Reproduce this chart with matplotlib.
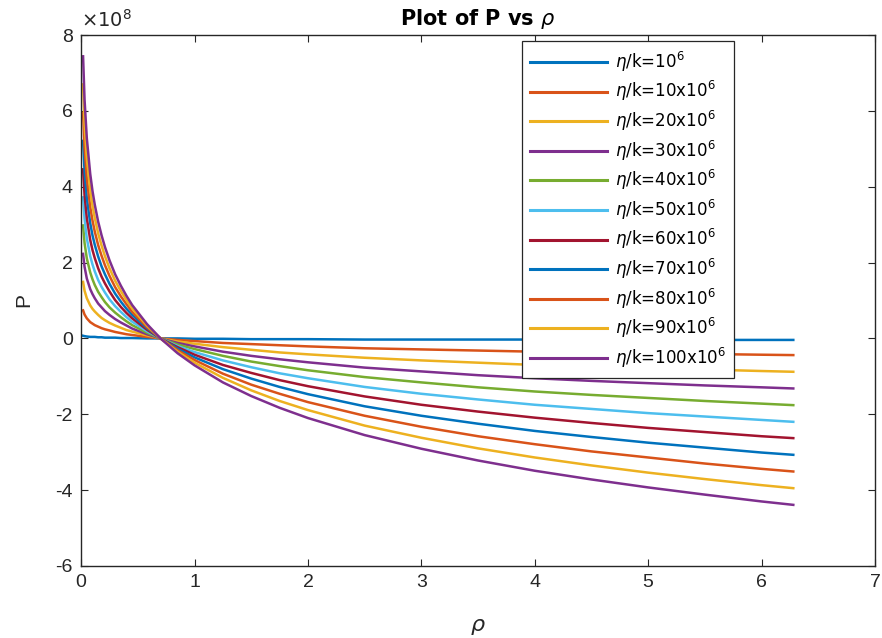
import matplotlib
matplotlib.use("Agg")
import matplotlib.pyplot as plt
from matplotlib.ticker import FuncFormatter

plt.rcParams['font.family'] = ['Liberation Sans', 'DejaVu Sans']
plt.rcParams['axes.unicode_minus'] = False
plt.rcParams['mathtext.fontset'] = 'dejavusans'

# ---------------- data (P in units of 1e8) ----------------
rho = [0.017, 0.03, 0.05, 0.08, 0.1, 0.12, 0.15, 0.18, 0.21, 0.25, 0.3, 0.35, 0.4, 0.45,
       0.58, 0.7, 0.85, 1.0, 1.25, 1.5, 1.75, 2.0, 2.5, 3.0, 3.5, 4.0, 4.5, 5.0, 5.5, 6.0, 6.28]

p_1 = [0.07, 0.06, 0.05, 0.04, 0.04, 0.04, 0.03, 0.03, 0.02, 0.02, 0.02, 0.01, 0.01, 0.01,
       0.00, 0.00, -0.00, -0.01, -0.01, -0.02, -0.02, -0.02, -0.03, -0.03, -0.03, -0.03,
       -0.04, -0.04, -0.04, -0.04, -0.04]
p_10 = [0.74, 0.63, 0.53, 0.43, 0.39, 0.35, 0.31, 0.27, 0.24, 0.21, 0.17, 0.14, 0.11, 0.09,
        0.04, 0.00, -0.04, -0.07, -0.12, -0.15, -0.18, -0.21, -0.26, -0.29, -0.32, -0.35,
        -0.37, -0.39, -0.41, -0.43, -0.44]
p_20 = [1.49, 1.26, 1.06, 0.87, 0.78, 0.71, 0.62, 0.54, 0.48, 0.41, 0.34, 0.28, 0.22, 0.18,
        0.08, 0.00, -0.08, -0.14, -0.23, -0.30, -0.37, -0.42, -0.51, -0.58, -0.64, -0.70,
        -0.74, -0.79, -0.82, -0.86, -0.88]
p_30 = [2.23, 1.89, 1.58, 1.30, 1.17, 1.06, 0.92, 0.82, 0.72, 0.62, 0.51, 0.42, 0.34, 0.26,
        0.11, 0.00, -0.12, -0.21, -0.35, -0.46, -0.55, -0.63, -0.77, -0.87, -0.97, -1.05,
        -1.12, -1.18, -1.24, -1.29, -1.32]
p_40 = [2.98, 2.52, 2.11, 1.74, 1.56, 1.41, 1.23, 1.09, 0.96, 0.82, 0.68, 0.56, 0.45, 0.35,
        0.15, 0.00, -0.16, -0.28, -0.46, -0.61, -0.73, -0.84, -1.02, -1.16, -1.29, -1.40,
        -1.49, -1.57, -1.65, -1.72, -1.76]
p_50 = [3.72, 3.15, 2.64, 2.17, 1.95, 1.77, 1.54, 1.36, 1.21, 1.03, 0.85, 0.70, 0.56, 0.44,
        0.19, 0.00, -0.20, -0.36, -0.58, -0.76, -0.92, -1.05, -1.28, -1.46, -1.61, -1.75,
        -1.86, -1.97, -2.06, -2.15, -2.20]
p_60 = [4.46, 3.78, 3.17, 2.60, 2.33, 2.12, 1.85, 1.63, 1.45, 1.24, 1.01, 0.83, 0.67, 0.53,
        0.23, 0.00, -0.23, -0.43, -0.70, -0.91, -1.10, -1.26, -1.53, -1.75, -1.93, -2.09,
        -2.23, -2.36, -2.47, -2.58, -2.63]
p_70 = [5.21, 4.41, 3.70, 3.04, 2.72, 2.47, 2.16, 1.90, 1.69, 1.44, 1.18, 0.97, 0.78, 0.62,
        0.27, 0.00, -0.27, -0.50, -0.81, -1.06, -1.28, -1.47, -1.79, -2.04, -2.25, -2.44,
        -2.60, -2.75, -2.88, -3.01, -3.07]
p_80 = [5.95, 5.04, 4.22, 3.47, 3.11, 2.82, 2.46, 2.18, 1.93, 1.65, 1.35, 1.11, 0.90, 0.70,
        0.30, 0.00, -0.31, -0.57, -0.93, -1.22, -1.46, -1.68, -2.04, -2.33, -2.58, -2.79,
        -2.98, -3.14, -3.30, -3.44, -3.51]
p_90 = [6.70, 5.67, 4.75, 3.91, 3.50, 3.18, 2.77, 2.45, 2.17, 1.85, 1.52, 1.25, 1.01, 0.79,
        0.34, 0.00, -0.35, -0.64, -1.04, -1.37, -1.65, -1.89, -2.30, -2.62, -2.90, -3.14,
        -3.35, -3.54, -3.71, -3.87, -3.95]
p_100 = [7.44, 6.30, 5.28, 4.34, 3.89, 3.53, 3.08, 2.72, 2.41, 2.06, 1.69, 1.39, 1.12, 0.88,
         0.38, 0.00, -0.39, -0.71, -1.16, -1.52, -1.83, -2.10, -2.55, -2.91, -3.22, -3.49,
         -3.72, -3.93, -4.12, -4.30, -4.39]

series = [p_1, p_10, p_20, p_30, p_40, p_50, p_60, p_70, p_80, p_90, p_100]
labels = [r'$\eta$/k=10$^6$'] + [r'$\eta$/k=%dx10$^6$' % m for m in range(10, 101, 10)]
x_ticks = [0, 1, 2, 3, 4, 5, 6, 7]
y_ticks = [-6, -4, -2, 0, 2, 4, 6, 8]

# MATLAB default colour order
colors = ['#0072BD', '#D95319', '#EDB120', '#7E2F8E', '#77AC30', '#4DBEEE', '#A2142F']

text_col = '#262626'

fig = plt.figure(figsize=(8.82, 6.38), dpi=100)
ax = fig.add_axes([0.092, 0.113, 0.9, 0.832])

for i, (p, lab) in enumerate(zip(series, labels)):
    ax.plot(rho, p, color=colors[i % len(colors)], linewidth=1.8, label=lab)

ax.set_xlim(0, 7)
ax.set_ylim(-6, 8)
ax.set_xticks(x_ticks)
ax.set_yticks(y_ticks)
ax.yaxis.set_major_formatter(FuncFormatter(lambda v, _: '%d' % v))

ax.text(0.0, 1.008, r'$\times$10$^{8}$', transform=ax.transAxes, ha='left', va='bottom',
        fontsize=14, color=text_col, family=['DejaVu Sans'])

ax.tick_params(direction='in', top=True, right=True, length=5, width=0.8,
               labelsize=14, colors=text_col, pad=6)
for s in ax.spines.values():
    s.set_color(text_col)
    s.set_linewidth(1.0)

ax.set_title(r'Plot of P vs $\rho$', fontsize=15, fontweight='bold', color='black',
             pad=7, family=['DejaVu Sans'])
ax.set_xlabel(r'$\rho$', fontsize=16, color=text_col, labelpad=18)
ax.set_ylabel('P', fontsize=15, color=text_col, labelpad=16)

leg = ax.legend(loc='upper right', bbox_to_anchor=(0.823, 0.988),
                prop={'family': 'DejaVu Sans', 'size': 12},
                frameon=True, fancybox=False, framealpha=1, edgecolor=text_col,
                handlelength=4.6, handletextpad=0.5, labelspacing=0.33,
                borderpad=0.5, borderaxespad=0)
leg.get_frame().set_linewidth(0.9)
for line in leg.get_lines():
    line.set_linewidth(2.2)

fig.savefig('out.png', dpi=100)
